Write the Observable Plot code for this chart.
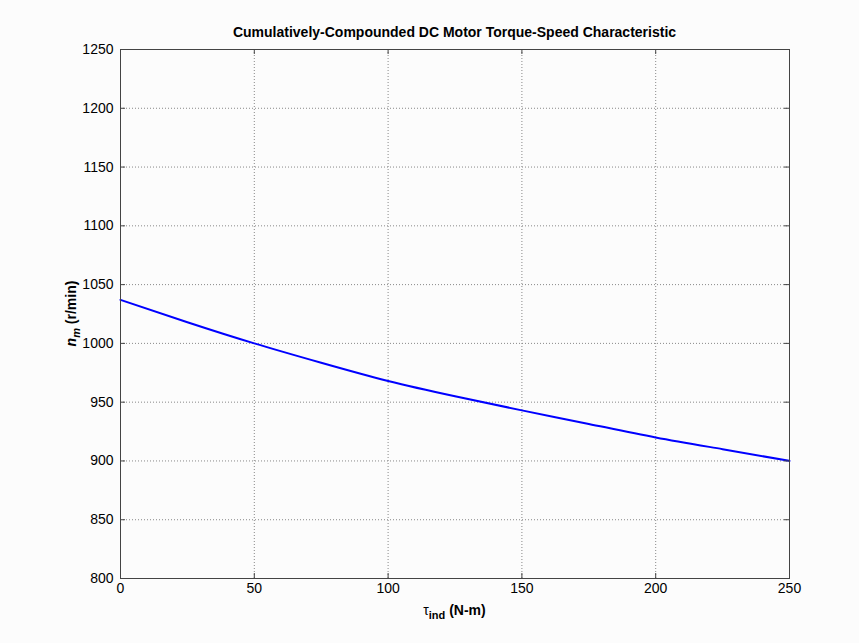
<!DOCTYPE html>
<html><head><meta charset="utf-8">
<script src="https://cdn.jsdelivr.net/npm/d3@7"></script>
<script src="https://cdn.jsdelivr.net/npm/@observablehq/plot@0.6"></script>
<style>
body{margin:0;background:#fcfcfc}
#chart{width:859px;height:643px}
</style>
</head><body><div id="chart"></div>
<script>
const torque = [0, 25, 50, 75, 100, 125, 150, 175, 200, 225, 250];
const speed = [1037, 1018, 1000, 983.5, 968, 955, 943, 931.5, 920, 910, 900];
const xTicks = [0, 50, 100, 150, 200, 250];
const yTicks = [800, 850, 900, 950, 1000, 1050, 1100, 1150, 1200, 1250];
const title = "Cumulatively-Compounded DC Motor Torque-Speed Characteristic";

const data = torque.map((t, i) => ({t, n: speed[i]}));
const W = 859, H = 643, mL = 120, mR = 70, mT = 49, mB = 65;
const innerW = W - mL - mR, innerH = H - mT - mB;
const font = "'Liberation Sans', Arial, Helvetica, sans-serif";
const frameColor = "#444";

const plot = Plot.plot({
  width: W, height: H,
  marginLeft: mL, marginRight: mR, marginTop: mT, marginBottom: mB,
  style: {background: "#fcfcfc", fontFamily: font, fontSize: "14px", color: "#000"},
  x: {domain: [0, 250], ticks: xTicks},
  y: {domain: [800, 1250], ticks: yTicks},
  marks: [
    Plot.ruleX(xTicks.slice(1, -1), {x: d => d, stroke: "#888", strokeDasharray: "1,2"}),
    Plot.ruleY(yTicks.slice(1, -1), {y: d => d, stroke: "#888", strokeDasharray: "1,2"}),
    Plot.line(data, {x: "t", y: "n", stroke: "#0000ff", strokeWidth: 2, curve: "natural"}),
    Plot.frame({stroke: frameColor}),
    Plot.tickY(yTicks, {y: d => d, insetRight: innerW - 5, stroke: frameColor}),
    Plot.tickY(yTicks, {y: d => d, insetLeft: innerW - 5, stroke: frameColor}),
    Plot.tickX(xTicks, {x: d => d, insetTop: innerH - 5, stroke: frameColor}),
    Plot.tickX(xTicks, {x: d => d, insetBottom: innerH - 5, stroke: frameColor}),
    Plot.axisX({ticks: xTicks, tickFormat: d => String(d), tickSize: 0, tickPadding: 5, label: null, fontSize: 14}),
    Plot.axisY({ticks: yTicks, tickFormat: d => String(d), tickSize: 0, tickPadding: 7, label: null, fontSize: 14})
  ]
});

const svg = d3.select(plot);
const cx = mL + innerW / 2;

svg.append("text")
  .attr("x", cx).attr("y", 37)
  .attr("text-anchor", "middle")
  .attr("font-family", font).attr("font-size", 14).attr("font-weight", "bold")
  .attr("fill", "#000")
  .text(title);

const xl = svg.append("text")
  .attr("x", cx).attr("y", 615)
  .attr("text-anchor", "middle")
  .attr("font-family", font).attr("font-size", 14).attr("font-weight", "bold")
  .attr("fill", "#000");
xl.append("tspan").attr("font-weight", "normal").text("τ");
xl.append("tspan").attr("font-size", 11).attr("dy", 4).text("ind");
xl.append("tspan").attr("dy", -4).text(" (N-m)");

const yl = svg.append("text")
  .attr("transform", `translate(76,${mT + innerH / 2}) rotate(-90)`)
  .attr("text-anchor", "middle")
  .attr("font-family", font).attr("font-size", 14).attr("font-weight", "bold")
  .attr("fill", "#000");
yl.append("tspan").attr("font-style", "italic").text("n");
yl.append("tspan").attr("font-style", "italic").attr("font-size", 11).attr("dy", 4).text("m");
yl.append("tspan").attr("dy", -4).text(" (r/min)");

document.getElementById("chart").appendChild(plot);
</script>
</body></html>
